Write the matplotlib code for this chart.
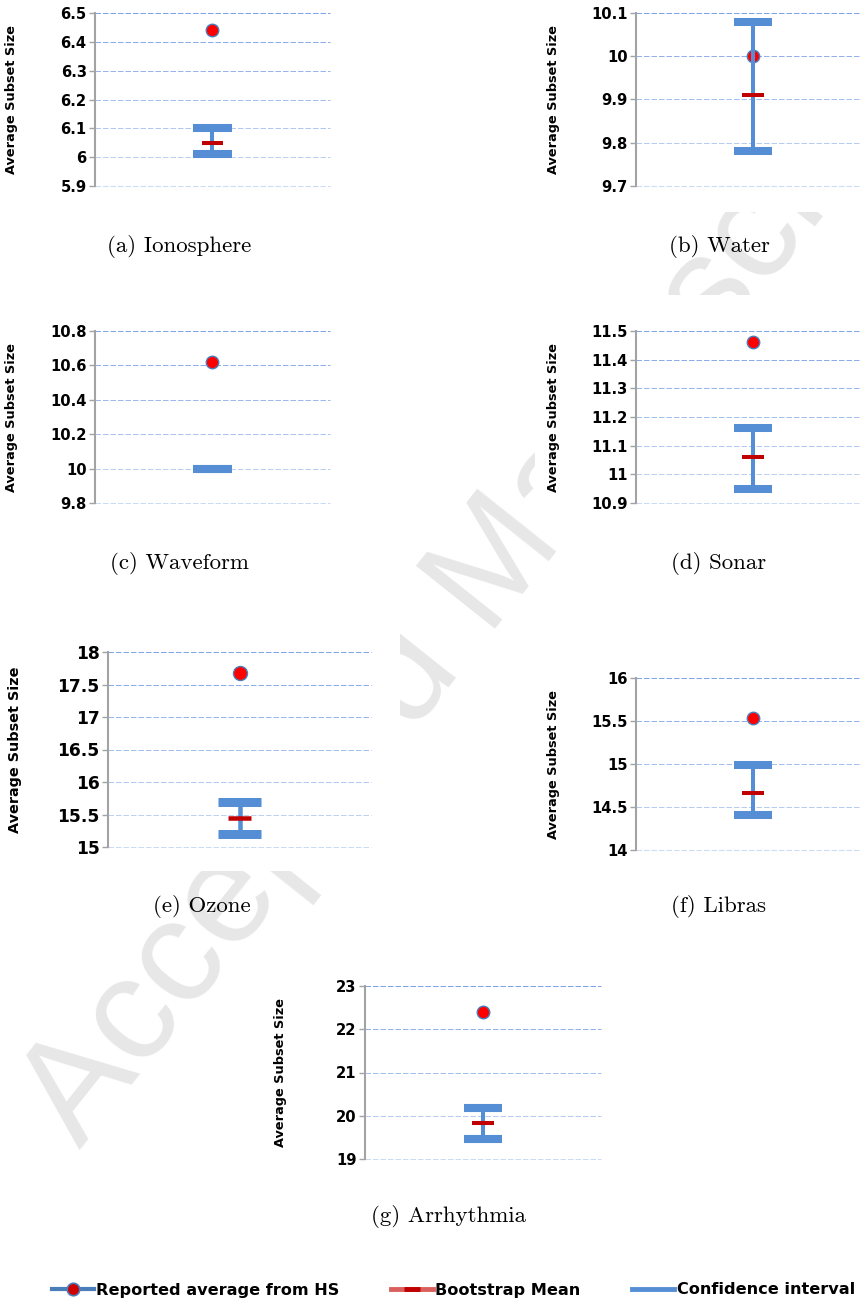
import numpy as np
import matplotlib
matplotlib.use('Agg')
import matplotlib.pyplot as plt
from matplotlib.lines import Line2D
from matplotlib.patches import Rectangle
from matplotlib.colors import to_rgb

W, H = 862, 1301

# data sets and values
captions = ['(a) Ionosphere', '(b) Water', '(c) Waveform', '(d) Sonar',
            '(e) Ozone', '(f) Libras', '(g) Arrhythmia']
hs_avg = [6.44, 10.0, 10.62, 11.46, 17.68, 15.54, 22.39]
boot_mean = [6.05, 9.91, 10.0, 11.06, 15.45, 14.66, 19.83]
ci_low = [6.01, 9.78, 10.0, 10.95, 15.20, 14.41, 19.47]
ci_high = [6.10, 10.08, 10.0, 11.16, 15.70, 14.99, 20.17]
y_min = [5.9, 9.7, 9.8, 10.9, 15, 14, 19]
y_max = [6.5, 10.1, 10.8, 11.5, 18, 16, 23]
y_step = [0.1, 0.1, 0.2, 0.1, 0.5, 0.5, 1]

# layout in pixels: axes box (x0, y0, x1, y1), caption centre, label x
axes_px = [(95, 13, 330, 186), (636, 13, 870, 186),
           (95, 331, 330, 503), (636, 331, 870, 503),
           (108, 652, 371, 847), (636, 678, 870, 850),
           (365, 986, 601, 1159)]
cap_px = [(179, 246), (719, 246), (179, 563), (719, 563),
          (202, 906), (719, 906), (449, 1217)]
ylab_px = [18, 560, 18, 560, 22, 560, 287]
tick_fs = [10.6, 10.6, 10.6, 10.6, 12.3, 10.6, 10.6]
lab_fs = [9.3, 9.3, 9.3, 9.3, 10.4, 9.3, 9.3]
# white backing of each sub-figure
back_px = [(0, 0, 345, 205), (577, 0, 862, 212), (0, 300, 345, 520),
           (535, 295, 862, 532), (0, 610, 400, 871), (577, 640, 862, 870),
           (250, 960, 620, 1175)]

BLUE = '#558ed5'
EDGE = '#4a7ebb'
DARKRED = '#c00000'
BOLD = dict(family='DejaVu Sans', weight='bold')


def fig_box(x0, y0, x1, y1):
    return [x0 / W, 1 - y1 / H, (x1 - x0) / W, (y1 - y0) / H]


fig = plt.figure(figsize=(W / 100, H / 100), dpi=100)

fig.text(0.556, 0.548, 'Accepted Manuscript', fontsize=106,
         family='Liberation Sans', color='#e7e7e7', rotation=51.5,
         rotation_mode='anchor', ha='center', va='center', zorder=-2)
for b in back_px:
    x, y, w, h = fig_box(*b)
    fig.add_artist(Rectangle((x, y), w, h, transform=fig.transFigure,
                             facecolor='white', edgecolor='none', zorder=-1))

g_top = np.array(to_rgb('#7fa4ea'))
g_bot = np.array(to_rgb('#cbdaf5'))

for i in range(len(captions)):
    box = axes_px[i]
    ax = fig.add_axes(fig_box(*box))
    s = (box[2] - box[0]) / 235.0
    ax.set_xlim(-0.5, 0.5)
    ax.set_ylim(y_min[i], y_max[i])
    ticks = np.round(np.arange(y_min[i], y_max[i] + y_step[i] / 2, y_step[i]), 2)
    ax.set_yticks(ticks)
    ax.set_yticklabels(['%g' % t for t in ticks], fontsize=tick_fs[i], **BOLD)
    ax.set_xticks([])
    for sp in ['top', 'right', 'bottom']:
        ax.spines[sp].set_visible(False)
    ax.spines['left'].set_color('#a3a3a3')
    ax.spines['left'].set_linewidth(1.5)
    ax.tick_params(axis='y', length=4.5, width=1.0, color='#a3a3a3', pad=1.5)

    # dashed gridlines, fading towards the bottom
    for t in ticks:
        f = (ticks[-1] - t) / (ticks[-1] - ticks[0])
        c = g_top * (1 - f) + g_bot * f
        ax.axhline(t, color=c, lw=0.72, ls=(0, (5.5, 2)), zorder=0.5,
                   clip_on=False, snap=True)

    ax.plot([0], [hs_avg[i]], 'o', ms=9 * s, mfc='red', mec=EDGE, mew=1.0, zorder=2)
    ax.vlines(0, ci_low[i], ci_high[i], color=BLUE, lw=2.9 * s, zorder=3)
    ax.hlines(boot_mean[i], -0.045, 0.045, color=DARKRED, lw=2.9 * s, zorder=4)
    ax.hlines([ci_low[i], ci_high[i]], -0.081, 0.081, color=BLUE, lw=5.8 * s, zorder=5)

    ax.set_ylabel('Average Subset Size', fontsize=lab_fs[i], **BOLD)
    ax.yaxis.set_label_coords((ylab_px[i] - box[0]) / (box[2] - box[0]), 0.5)

    cx, cy = cap_px[i]
    fig.text(cx / W, 1 - cy / H, captions[i], family='cmr10', fontsize=16.5,
             ha='center', va='center')

handles = [
    Line2D([], [], color=EDGE, lw=3, marker='o', ms=9, mfc='#d00000', mec=EDGE, mew=1.2),
    Line2D([], [], color='#d9605c', lw=3.5, marker='_', ms=12, mew=3.5, mec=DARKRED),
    Line2D([], [], color=BLUE, lw=3.5),
]
labels = ['Reported average from HS', 'Bootstrap Mean', 'Confidence interval']
fig.legend(handles, labels, loc='center', bbox_to_anchor=(0.526, 1 - 1290 / H),
           ncol=3, frameon=False, prop=dict(family='DejaVu Sans', weight='bold', size=11.6),
           handlelength=2.6, handletextpad=0.15, columnspacing=3.2, borderpad=0)

fig.savefig('out.png', dpi=100)
